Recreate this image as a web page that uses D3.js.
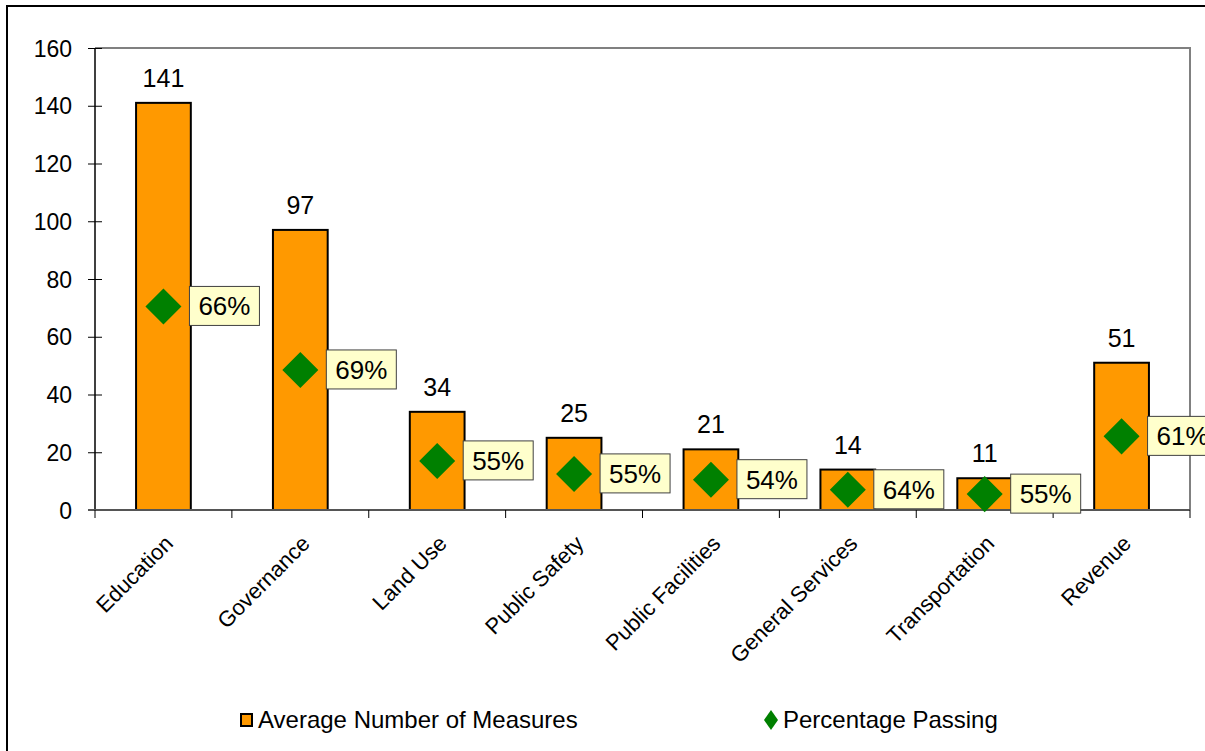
<!DOCTYPE html>
<html>
<head>
<meta charset="utf-8">
<script src="https://cdn.jsdelivr.net/npm/d3@7"></script>
<style>
  body { margin: 0; background: #fff; }
  text { font-family: "Liberation Sans", Arial, sans-serif; fill: #000; }
</style>
</head>
<body>
<div id="container"></div>
<script>
const WIDTH = 1205;
const HEIGHT = 751;
const MARGIN = { TOP: 48, BOTTOM: 241, LEFT: 95, RIGHT: 15 };

const width = WIDTH - MARGIN.LEFT - MARGIN.RIGHT;   // 1095
const height = HEIGHT - MARGIN.TOP - MARGIN.BOTTOM; // 462

// datos
const categories = ['Education', 'Governance', 'Land Use', 'Public Safety',
  'Public Facilities', 'General Services', 'Transportation', 'Revenue'];
const measures = [141, 97, 34, 25, 21, 14, 11, 51];
// posición del rombo en la escala izquierda (tal como se ve en la imagen)
const diamondPos = [70.5, 48.5, 17, 12.5, 10.5, 7, 5.5, 25.5];
const passingLabels = ['66%', '69%', '55%', '55%', '54%', '64%', '55%', '61%'];
const yTicks = [0, 20, 40, 60, 80, 100, 120, 140, 160];

const ORANGE = '#FF9900';
const GREEN = '#008000';

const svg = d3.select('#container')
  .append('svg')
    .attr('width', WIDTH)
    .attr('height', HEIGHT);

// marco exterior
svg.append('rect')
  .attr('x', 7).attr('y', 6)
  .attr('width', 1400).attr('height', 900)
  .attr('fill', 'none')
  .attr('stroke', '#000')
  .attr('stroke-width', 2);

const container = svg.append('g')
  .attr('transform', `translate(${MARGIN.LEFT}, ${MARGIN.TOP})`);

const x = d3.scaleBand().domain(categories).range([0, width]).paddingInner(0).paddingOuter(0);
const y = d3.scaleLinear().domain([0, 160]).range([height, 0]);

// borde gris del área de trazado (arriba y derecha)
container.append('path')
  .attr('d', `M0,${y(160)}H${width}V${y(0)}`)
  .attr('fill', 'none')
  .attr('stroke', '#808080')
  .attr('stroke-width', 2);

// barras
const barW = x.bandwidth() * 0.4;
container.selectAll('.bar')
  .data(measures)
  .enter()
  .append('rect')
    .attr('class', 'bar')
    .attr('x', (d, i) => x(categories[i]) + (x.bandwidth() - barW) / 2)
    .attr('y', d => y(d))
    .attr('width', barW)
    .attr('height', d => y(0) - y(d))
    .attr('fill', ORANGE)
    .attr('stroke', '#000')
    .attr('stroke-width', 2);

// etiquetas de valor
container.selectAll('.val')
  .data(measures)
  .enter()
  .append('text')
    .attr('class', 'val')
    .attr('x', (d, i) => x(categories[i]) + x.bandwidth() / 2)
    .attr('y', d => y(d) - 16)
    .attr('text-anchor', 'middle')
    .style('font-size', '25px')
    .text(d => d);

// eje Y
const yAxis = container.append('g')
  .call(d3.axisLeft(y).tickValues(yTicks).tickSize(7).tickPadding(16));
yAxis.select('.domain').attr('stroke', '#000').attr('stroke-width', 1.5)
  .attr('d', `M0,${y(160)}V${y(0)}`);
yAxis.selectAll('.tick line').attr('stroke', '#000').attr('x2', 7).attr('x1', -7);
yAxis.selectAll('.tick text').style('font-size', '23px')
  .style('font-family', '"Liberation Sans", Arial, sans-serif').attr('dy', '0.35em');

// eje X
const bounds = d3.range(categories.length + 1).map(i => i * x.bandwidth());
container.append('line')
  .attr('x1', -7).attr('x2', width)
  .attr('y1', y(0)).attr('y2', y(0))
  .attr('stroke', '#555').attr('stroke-width', 2);
container.selectAll('.xtick')
  .data(bounds)
  .enter()
  .append('line')
    .attr('x1', d => d).attr('x2', d => d)
    .attr('y1', y(0)).attr('y2', y(0) + 8)
    .attr('stroke', '#000');

container.selectAll('.xlab')
  .data(categories)
  .enter()
  .append('text')
    .attr('class', 'xlab')
    .attr('transform', d => `translate(${x(d) + x.bandwidth() / 2}, ${y(0) + 24}) rotate(-45)`)
    .attr('text-anchor', 'end')
    .attr('dy', '0.7em')
    .style('font-size', '22px')
    .text(d => d);

// rombos
const diamond = d3.symbol().type(d3.symbolSquare).size(650);
container.selectAll('.dia')
  .data(diamondPos)
  .enter()
  .append('path')
    .attr('class', 'dia')
    .attr('d', diamond)
    .attr('transform', (d, i) => `translate(${x(categories[i]) + x.bandwidth() / 2}, ${y(d)}) rotate(45)`)
    .attr('fill', GREEN);

// etiquetas de porcentaje
const lbl = container.selectAll('.pct')
  .data(diamondPos)
  .enter()
  .append('g')
    .attr('class', 'pct')
    .attr('transform', (d, i) => `translate(${x(categories[i]) + x.bandwidth() / 2 + 26}, ${y(d)})`);
lbl.append('rect')
  .attr('x', 0).attr('y', -20)
  .attr('width', 70).attr('height', 39)
  .attr('fill', '#FFFFCC')
  .attr('stroke', '#404040')
  .attr('stroke-width', 1);
lbl.append('text')
  .attr('x', 35).attr('y', 9)
  .attr('text-anchor', 'middle')
  .style('font-size', '26px')
  .text((d, i) => passingLabels[i]);

// leyenda
const legend = svg.append('g').attr('transform', 'translate(0, 720)');
legend.append('rect')
  .attr('x', 241).attr('y', -6)
  .attr('width', 11).attr('height', 12)
  .attr('fill', ORANGE).attr('stroke', '#000').attr('stroke-width', 2);
legend.append('text')
  .attr('x', 258).attr('y', 8)
  .style('font-size', '24px')
  .text('Average Number of Measures');
legend.append('path')
  .attr('d', 'M771,-10L778,0L771,10L764,0Z')
  .attr('fill', GREEN);
legend.append('text')
  .attr('x', 783).attr('y', 8)
  .style('font-size', '24px')
  .text('Percentage Passing');
</script>
</body>
</html>
